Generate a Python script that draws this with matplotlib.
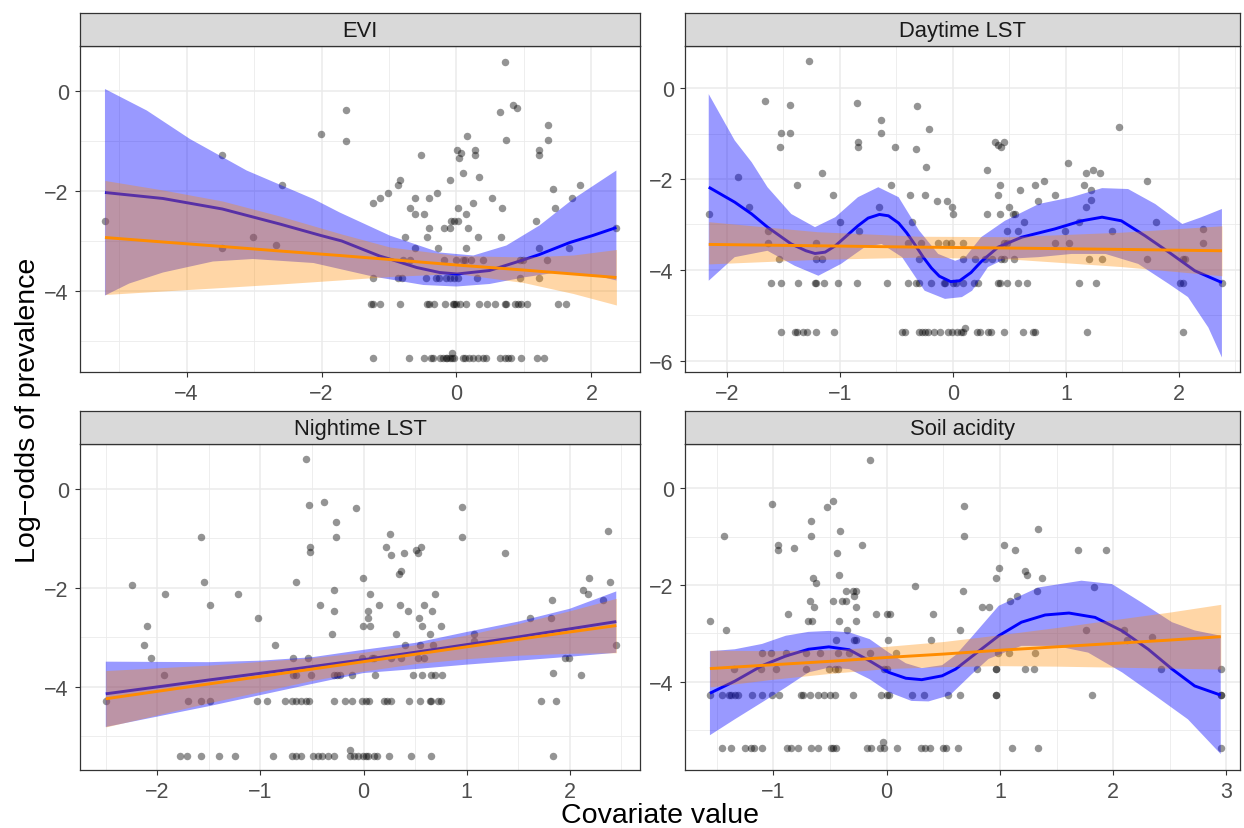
import matplotlib
matplotlib.use("Agg")
import matplotlib.pyplot as plt
from matplotlib.ticker import MultipleLocator

plt.rcParams["font.family"] = ["Liberation Sans", "DejaVu Sans"]

# ---------------- EVI ----------------
evi_x = [-5.21, -3.47, -2.59, -3.02, -3.47, -2.67, -2.01, -1.64, -1.64, -1.24, -1.14, -1.02,
         0.72, 0.65, 0.84, 0.90, 1.36, 1.36, 1.23, 1.23, 0.74, 0.16, 0.01, 0.07, 0.03, 0.28,
         0.28, -0.52, 0.09, 0.34, -0.10, -0.83, -0.87, -0.29, -0.40, -0.62, 0.53, 1.43, 1.83,
         1.71, 0.24, -0.69, 0.67, 1.46, 0.02, -0.61, -0.48, 0.14, -0.08, -0.03, 0.02, 1.18,
         -0.40, -0.19, -0.10, 0.17, -0.76, -0.43, 0.32, 0.66, -0.61, -0.27, 0.14, 1.23, 1.67,
         2.36, -0.06]
evi_y = [-2.59, -1.28, -1.87, -2.92, -3.13, -3.07, -0.85, -0.37, -0.99, -2.23, -2.13, -2.03,
         0.59, -0.41, -0.28, -0.33, -0.68, -0.98, -1.18, -1.28, -0.98, -0.89, -1.18, -1.23,
         -1.34, -1.18, -1.28, -1.28, -1.64, -1.71, -1.78, -1.78, -1.87, -2.03, -2.13, -2.13,
         -2.13, -1.95, -1.87, -2.13, -2.23, -2.33, -2.33, -2.33, -2.33, -2.45, -2.45, -2.45,
         -2.59, -2.59, -2.59, -2.59, -2.74, -2.74, -2.74, -2.74, -2.92, -2.92, -2.92, -2.92,
         -3.13, -3.13, -3.13, -3.13, -3.13, -2.74, -5.23]
evi_row_y = [-3.38, -3.73, -4.25, -5.34]
evi_row_x = [
    [-0.80, -0.69, -0.19, -0.01, 0.09, 0.13, 0.21, 0.40, 0.94, 0.99, 1.34],
    [-1.23, -0.87, -0.81, -0.45, -0.30, -0.26, -0.16, -0.10, -0.04, 0.02, 0.30, 0.94, 1.22],
    [-1.26, -1.24, -1.14, -0.84, -0.43, -0.41, -0.33, -0.17, -0.05, -0.03, 0.0, 0.05, 0.14,
     0.33, 0.45, 0.57, 0.72, 0.73, 0.86, 0.91, 0.95, 1.04, 1.50, 1.62],
    [-1.24, -0.70, -0.48, -0.38, -0.35, -0.25, -0.20, -0.16, -0.14, -0.10, -0.06, -0.03, 0.10,
     0.13, 0.19, 0.25, 0.32, 0.40, 0.44, 0.64, 0.72, 0.76, 0.81, 0.95, 1.19, 1.29],
]
evi_gam_x = [-5.21, -4.35, -3.47, -2.62, -2.01, -1.70, -1.14, -0.99, -0.59, -0.25, 0.01, 0.49,
             0.94, 1.23, 1.68, 2.02, 2.37]
evi_gam_y = [-2.03, -2.15, -2.36, -2.66, -2.89, -3.00, -3.30, -3.36, -3.53, -3.63, -3.66, -3.59,
             -3.40, -3.27, -3.03, -2.89, -2.73]
evi_gam_hi_x = [-5.21, -4.59, -3.95, -3.11, -2.12, -1.73, -0.99, -0.62, -0.25, 0.25, 0.74, 1.23,
                1.73, 2.37]
evi_gam_hi = [0.04, -0.39, -0.96, -1.59, -2.16, -2.43, -2.89, -3.06, -3.23, -3.29, -3.09, -2.69,
              -2.16, -1.59]
evi_gam_lo_x = [-5.21, -4.85, -4.35, -3.61, -3.02, -2.12, -1.24, -0.49, 0.0, 0.49, 0.99, 1.48,
                2.0, 2.37]
evi_gam_lo = [-4.09, -3.85, -3.63, -3.41, -3.36, -3.44, -3.71, -3.88, -3.91, -3.86, -3.73, -3.63,
              -3.67, -3.79]
evi_lm_x = [-5.21, -4.35, -3.47, -2.62, -1.73, -0.99, 0.0, 0.99, 1.73, 2.37]
evi_lm_y = [-2.93, -3.02, -3.11, -3.20, -3.29, -3.37, -3.48, -3.58, -3.66, -3.73]
evi_lm_hi = [-1.79, -1.98, -2.20, -2.50, -2.85, -3.12, -3.29, -3.32, -3.28, -3.17]
evi_lm_lo = [-4.07, -4.00, -3.93, -3.86, -3.78, -3.71, -3.65, -3.83, -4.05, -4.28]

# ---------------- Daytime LST ----------------
day_x = [-1.27, -1.66, -1.44, -1.52, -1.44, -1.53, -0.85, -0.64, -0.64, -0.84, -0.84, -0.51,
         -0.32, -0.21, -0.33, -0.24, -1.16, -1.90, -1.38, -1.06, -0.55, -0.38, -0.25, -0.14,
         -0.05, -0.01, 0.0, -1.80, -2.16, -0.65, -1.00, -0.36, -1.64, -0.83,
         1.47, 0.37, 0.40, 0.45, 0.43, 0.30, 1.02, 1.18, 1.24, 1.30, 0.81, 0.73, 1.72, 0.42,
         0.59, 0.40, 1.16, 1.22, 0.75, 0.90, 1.22, 1.18, 0.50, 0.30, 0.42, 0.53, 0.55, 0.63,
         1.12, 1.80, 0.48, 0.58, 0.99, 1.41, 2.21, 0.11]
day_y = [0.59, -0.29, -0.37, -0.99, -0.99, -1.29, -0.33, -0.69, -0.99, -1.18, -1.29, -1.29,
         -0.40, -0.90, -1.34, -1.73, -1.87, -1.96, -2.14, -2.35, -2.14, -2.35, -2.35, -2.48,
         -2.48, -2.61, -2.77, -2.61, -2.77, -2.61, -2.94, -2.94, -3.15, -3.15,
         -0.86, -1.19, -1.24, -1.19, -1.29, -1.80, -1.65, -1.87, -1.80, -1.87, -2.05, -2.14,
         -2.05, -2.14, -2.24, -2.35, -2.14, -2.24, -2.48, -2.35, -2.46, -2.61, -2.61, -2.77,
         -2.77, -2.77, -2.77, -2.94, -2.94, -2.94, -3.15, -3.15, -3.15, -3.15, -3.09, -5.27]
day_row_y = [-3.41, -3.76, -4.28, -5.38]
day_row_x = [
    [-1.64, -1.21, -0.40, -0.28, -0.13, -0.06, -0.02, 0.09, 0.45, 0.48, 0.90, 1.03, 2.21],
    [-1.54, -1.21, -1.16, -0.30, 0.09, 0.20, 0.28, 0.35, 0.43, 0.45, 0.54, 1.20, 1.32, 1.72,
     2.04, 2.05],
    [-1.61, -1.52, -1.37, -1.22, -1.21, -1.14, -1.02, -0.85, -0.58, -0.40, -0.33, -0.30, -0.19,
     -0.08, -0.07, 0.00, 0.03, 0.09, 0.19, 0.22, 0.40, 0.42, 0.48, 0.58, 0.66, 1.12, 1.27, 2.01,
     2.04, 2.38],
    [-1.52, -1.40, -1.38, -1.33, -1.29, -1.21, -1.05, -0.45, -0.42, -0.30, -0.27, -0.25, -0.22,
     -0.17, -0.11, -0.04, -0.01, 0.04, 0.07, 0.09, 0.21, 0.24, 0.31, 0.34, 0.45, 0.62, 0.71,
     0.73, 1.19, 2.04],
]
day_gam_x = [-2.16, -1.93, -1.78, -1.64, -1.43, -1.30, -1.22, -1.13, -1.04, -0.94, -0.84, -0.75,
             -0.65, -0.57, -0.48, -0.41, -0.34, -0.26, -0.19, -0.12, -0.02, 0.06, 0.16, 0.25,
             0.40, 0.61, 0.90, 1.14, 1.32, 1.49, 1.70, 1.91, 2.14, 2.38]
day_gam_y = [-2.18, -2.51, -2.77, -3.06, -3.43, -3.58, -3.64, -3.61, -3.47, -3.25, -3.03, -2.86,
             -2.78, -2.81, -2.97, -3.18, -3.43, -3.73, -3.96, -4.14, -4.26, -4.24, -4.06, -3.82,
             -3.50, -3.28, -3.10, -2.92, -2.84, -2.92, -3.25, -3.61, -4.02, -4.28]
day_gam_hi_x = [-2.16, -1.93, -1.78, -1.64, -1.43, -1.22, -1.04, -0.84, -0.66, -0.48, -0.30,
                -0.13, 0.02, 0.11, 0.25, 0.46, 0.76, 1.05, 1.32, 1.55, 1.79, 2.03, 2.20, 2.38]
day_gam_hi = [-0.13, -1.15, -1.63, -2.18, -2.77, -3.06, -2.84, -2.40, -2.18, -2.40, -3.13,
              -3.65, -3.80, -3.72, -3.28, -2.92, -2.55, -2.40, -2.20, -2.22, -2.55, -2.99, -2.84,
              -2.66]
day_gam_lo_x = [-2.16, -1.93, -1.64, -1.40, -1.19, -0.99, -0.78, -0.63, -0.45, -0.25, -0.07,
                0.08, 0.17, 0.31, 0.46, 0.76, 1.05, 1.35, 1.64, 1.91, 2.08, 2.26, 2.38]
day_gam_lo = [-4.24, -3.72, -3.58, -3.91, -4.13, -3.87, -3.50, -3.43, -3.72, -4.46, -4.64,
              -4.60, -4.46, -3.94, -3.76, -3.72, -3.65, -3.65, -3.87, -4.31, -4.60, -5.27, -5.93]
day_lm_x = [-2.16, -1.20, -0.30, 0.50, 1.50, 2.38]
day_lm_y = [-3.44, -3.47, -3.50, -3.52, -3.55, -3.58]
day_lm_hi = [-2.94, -3.16, -3.26, -3.27, -3.17, -3.03]
day_lm_lo = [-3.87, -3.77, -3.72, -3.76, -3.93, -4.13]

# ---------------- Nightime LST ----------------
night_x = [-0.56, -0.53, -0.38, -0.07, -0.27, -0.27, -1.58, -0.52, -0.52, -2.25, -1.55, -0.66,
           -0.01, -1.93, -1.22, -0.29, 0.06, -1.49, -0.42, -0.29, 0.04, 0.04, -1.02, -2.10,
           -0.01, 0.06, -0.31, -2.13, -0.86,
           0.95, 0.95, 2.37, 1.37, 0.26, 0.22, 0.27, 0.39, 0.51, 0.53, 0.56, 0.34, 0.36, 2.19,
           2.39, 2.13, 2.18, 2.32, 0.15, 0.35, 0.59, 0.69, 0.43, 0.66, 0.54, 1.83, 1.61, 1.82,
           0.57, 0.75, 0.31, 0.64, 1.07, 1.07, 0.40, 0.55, 0.67, 2.45, 1.84, -0.13]
night_y = [0.61, -0.32, -0.27, -0.39, -0.67, -0.98, -0.98, -1.18, -1.28, -1.95, -1.87, -1.87,
           -1.79, -2.13, -2.13, -2.04, -2.13, -2.34, -2.34, -2.47, -2.47, -2.61, -2.61, -2.76,
           -2.76, -2.76, -2.94, -3.15, -3.15,
           -0.36, -0.98, -0.85, -1.29, -0.90, -1.18, -1.34, -1.29, -1.23, -1.29, -1.18, -1.72,
           -1.65, -1.79, -1.87, -2.04, -2.13, -2.24, -2.34, -2.34, -2.34, -2.13, -2.47, -2.47,
           -2.61, -2.24, -2.61, -2.61, -2.76, -2.76, -2.94, -2.94, -2.94, -3.08, -3.15, -3.15,
           -3.15, -3.15, -3.72, -5.27]
night_row_y = [-3.41, -3.76, -4.28, -5.39]
night_row_x = [
    [-2.06, -0.68, -0.54, -0.02, 0.08, 0.10, 0.27, 0.36, 0.53, 0.59, 1.95, 1.99],
    [-1.94, -0.68, -0.66, -0.51, -0.29, -0.26, -0.23, -0.11, 0.11, 0.48, 0.57, 0.65, 0.69,
     0.76, 2.11],
    [-2.50, -1.70, -1.58, -1.49, -1.03, -0.94, -0.76, -0.69, -0.66, -0.61, -0.56, -0.53, -0.29,
     -0.18, -0.11, -0.02, 0.02, 0.05, 0.20, 0.23, 0.27, 0.44, 0.55, 0.64, 0.65, 0.72, 0.75,
     1.72, 1.87],
    [-1.78, -1.71, -1.58, -1.40, -1.25, -0.88, -0.69, -0.66, -0.61, -0.49, -0.44, -0.40, -0.35,
     -0.29, -0.13, -0.09, -0.05, -0.01, 0.02, 0.04, 0.10, 0.13, 0.25, 0.46, 0.65, 1.84],
]
night_gam_x = [-2.50, -1.50, -0.50, 0.07, 0.50, 1.50, 2.45]
night_gam_y = [-4.14, -3.86, -3.59, -3.43, -3.30, -2.99, -2.68]
night_gam_hi_x = [-2.50, -1.50, -1.00, -0.50, 0.00, 0.50, 1.00, 1.50, 2.00, 2.45]
night_gam_hi = [-3.49, -3.50, -3.47, -3.40, -3.25, -3.11, -2.89, -2.68, -2.42, -2.07]
night_gam_lo_x = [-2.50, -1.50, -0.50, 0.00, 0.50, 1.00, 1.50, 2.00, 2.45]
night_gam_lo = [-4.81, -4.39, -3.94, -3.72, -3.64, -3.55, -3.47, -3.39, -3.31]
night_lm_x = [-2.50, -1.50, -0.50, 0.00, 0.50, 1.00, 1.50, 2.00, 2.45]
night_lm_y = [-4.24, -3.94, -3.64, -3.49, -3.34, -3.19, -3.04, -2.89, -2.76]
night_lm_hi = [-3.67, -3.56, -3.41, -3.30, -3.15, -2.95, -2.72, -2.46, -2.21]
night_lm_lo = [-4.81, -4.32, -3.87, -3.68, -3.53, -3.43, -3.36, -3.32, -3.31]

# ---------------- Soil acidity ----------------
soil_x = [-0.15, -1.01, -0.47, -0.53, -0.67, -1.44, -0.67, -0.41, -0.96, -0.96, -0.82, -0.22,
          -0.44, -0.42, -0.65, -0.62, 0.25, -0.36, -0.30, -0.27, -0.68, -0.47, -0.39, -0.36,
          -0.29, -0.64, -0.27, -0.87, -0.09, 0.0, 0.03, 0.41, -1.56, -0.69, -0.66, -0.42, -0.27,
          -1.42, -0.35, 0.65, -0.45, -0.29, -0.27, 0.01, 0.39,
          0.68, 0.68, 1.34, 1.04, 1.13, 1.69, 1.94, 0.99, 0.97, 1.22, 1.24, 1.37, 0.67, 1.33,
          1.83, 1.15, 1.09, 0.84, 0.90, 1.76, 2.10, 2.12, 2.34, -0.03]
soil_y = [0.59, -0.32, -0.27, -0.39, -0.67, -0.98, -0.98, -0.89, -1.17, -1.28, -1.23, -1.17,
          -1.33, -1.79, -1.86, -1.95, -2.03, -2.13, -2.13, -2.13, -2.34, -2.34, -2.34, -2.34,
          -2.23, -2.46, -2.46, -2.60, -2.60, -2.60, -2.60, -2.60, -2.75, -2.75, -2.75, -2.75,
          -2.75, -2.93, -2.93, -2.93, -3.14, -3.14, -3.14, -3.14, -3.14,
          -0.36, -0.98, -0.84, -1.17, -1.28, -1.28, -1.28, -1.64, -1.86, -1.71, -1.79, -1.86,
          -2.13, -2.13, -2.04, -2.23, -2.34, -2.46, -2.46, -2.93, -2.93, -3.14, -3.08, -5.26]
soil_row_y = [-3.40, -3.74, -4.27, -5.38]
soil_row_x = [
    [-1.10, -1.02, -0.89, -0.71, -0.59, -0.43, -0.33, -0.15, 0.08, 0.98, 1.08, 1.31],
    [-1.35, -1.11, -0.98, -0.71, -0.51, -0.46, -0.43, -0.02, 0.00, 0.80, 0.97, 0.97, 1.22,
     1.30, 2.42, 2.95],
    [-1.56, -1.45, -1.39, -1.37, -1.34, -1.31, -1.19, -1.10, -1.01, -0.95, -0.76, -0.74, -0.68,
     -0.61, -0.55, -0.50, -0.46, -0.30, -0.05, 0.00, 0.02, 0.22, 0.33, 0.54, 0.65, 0.97, 0.97,
     1.81, 2.95, 2.95],
    [-1.45, -1.37, -1.25, -1.20, -1.17, -1.10, -0.88, -0.84, -0.78, -0.67, -0.61, -0.49, -0.47,
     -0.45, -0.17, -0.14, -0.06, -0.02, 0.09, 0.30, 0.34, 0.38, 0.50, 0.52, 0.63, 1.11, 1.34,
     2.95],
]
soil_gam_x = [-1.56, -1.34, -1.10, -0.89, -0.69, -0.51, -0.33, -0.15, 0.02, 0.17, 0.31, 0.49,
              0.61, 0.78, 0.99, 1.19, 1.40, 1.61, 1.84, 2.08, 2.31, 2.52, 2.72, 2.95]
soil_gam_y = [-4.24, -3.99, -3.67, -3.47, -3.33, -3.28, -3.34, -3.57, -3.81, -3.93, -3.96, -3.88,
              -3.74, -3.43, -3.05, -2.77, -2.62, -2.58, -2.67, -2.95, -3.33, -3.74, -4.09, -4.28]
soil_gam_hi_x = [-1.56, -1.34, -1.10, -0.89, -0.69, -0.51, -0.33, -0.15, 0.02, 0.17, 0.31, 0.49,
                 0.61, 0.75, 0.99, 1.34, 1.72, 1.99, 2.25, 2.52, 2.72, 2.95]
soil_gam_hi = [-3.37, -3.33, -3.22, -3.05, -2.97, -2.95, -2.98, -3.12, -3.40, -3.62, -3.72, -3.66,
               -3.45, -3.08, -2.43, -2.05, -1.91, -1.98, -2.36, -2.77, -2.94, -3.05]
soil_gam_lo_x = [-1.56, -1.34, -1.10, -0.89, -0.69, -0.51, -0.33, -0.15, 0.02, 0.22, 0.37, 0.56,
                 0.75, 0.90, 1.19, 1.49, 1.78, 2.08, 2.37, 2.66, 2.95]
soil_gam_lo = [-5.11, -4.78, -4.43, -4.12, -3.81, -3.71, -3.74, -3.95, -4.22, -4.40, -4.41, -4.28,
               -3.85, -3.53, -3.26, -3.26, -3.40, -3.81, -4.29, -4.78, -5.50]
soil_lm_x = [-1.56, -1.0, -0.5, 0.0, 0.5, 1.0, 1.5, 2.0, 2.5, 2.95]
soil_lm_y = [-3.73, -3.65, -3.58, -3.50, -3.43, -3.35, -3.28, -3.21, -3.14, -3.07]
soil_lm_hi = [-3.35, -3.36, -3.34, -3.27, -3.17, -3.03, -2.88, -2.72, -2.56, -2.40]
soil_lm_lo = [-4.11, -3.95, -3.83, -3.73, -3.69, -3.67, -3.68, -3.70, -3.72, -3.74]

W, H = 1244, 829


def box(l, t, r, b):
    return [l / W, 1 - b / H, (r - l) / W, (b - t) / H]


def panel(bounds, title, px, py, row_y, row_x, gx, gy, hx, hi, lx, lo,
          mx, my, mhi, mlo, xlim, ylim, xmaj, ymaj):
    l, t, r, b = bounds
    ax = fig.add_axes(box(l, t, r, b))
    st = fig.add_axes(box(l, t - 33, r, t))
    st.set_facecolor("#D9D9D9")
    st.set_xticks([]); st.set_yticks([])
    for s in st.spines.values():
        s.set_color("#333333"); s.set_linewidth(0.9)
    st.text(0.5, 0.46, title, ha="center", va="center", fontsize=15.8, color="#1A1A1A")

    # points
    allx = list(px); ally = list(py)
    for lvl, xs in zip(row_y, row_x):
        allx += xs; ally += [lvl] * len(xs)
    ax.plot(allx, ally, "o", color="black", alpha=0.42, ms=5.4, mew=0, zorder=2)

    # GAM smooth (blue)
    ax.fill(list(hx) + list(lx)[::-1], list(hi) + list(lo)[::-1],
            color="blue", alpha=0.4, lw=0, zorder=3)
    ax.plot(gx, gy, color="blue", lw=2.1, zorder=4, solid_capstyle="butt")
    # linear fit (orange)
    ax.fill_between(mx, mlo, mhi, color="#FF8C00", alpha=0.35, lw=0, zorder=5)
    ax.plot(mx, my, color="#FF8C00", lw=2.1, zorder=6, solid_capstyle="butt")

    ax.set_xlim(*xlim); ax.set_ylim(*ylim)
    ax.xaxis.set_major_locator(MultipleLocator(xmaj))
    ax.xaxis.set_minor_locator(MultipleLocator(xmaj / 2))
    ax.yaxis.set_major_locator(MultipleLocator(ymaj))
    ax.yaxis.set_minor_locator(MultipleLocator(ymaj / 2))
    ax.grid(which="major", color="#EBEBEB", lw=1.1, zorder=0)
    ax.grid(which="minor", color="#EBEBEB", lw=0.6, zorder=0)
    ax.set_axisbelow(True)
    ax.tick_params(which="major", length=3.5, width=0.8, color="#333333",
                   labelsize=15.5, labelcolor="#4D4D4D", pad=4.5)
    ax.tick_params(which="minor", length=0)
    for s in ax.spines.values():
        s.set_color("#333333"); s.set_linewidth(0.9)
    return ax


fig = plt.figure(figsize=(W / 100, H / 100), dpi=100)

panel((80, 47, 640, 373), "EVI", evi_x, evi_y, evi_row_y, evi_row_x,
      evi_gam_x, evi_gam_y, evi_gam_hi_x, evi_gam_hi, evi_gam_lo_x, evi_gam_lo,
      evi_lm_x, evi_lm_y, evi_lm_hi, evi_lm_lo, (-5.58, 2.72), (-5.62, 0.9), 2, 2)
panel((685, 47, 1240, 373), "Daytime LST", day_x, day_y, day_row_y, day_row_x,
      day_gam_x, day_gam_y, day_gam_hi_x, day_gam_hi, day_gam_lo_x, day_gam_lo,
      day_lm_x, day_lm_y, day_lm_hi, day_lm_lo, (-2.37, 2.54), (-6.25, 0.93), 1, 2)
panel((80, 445, 640, 771), "Nightime LST", night_x, night_y, night_row_y, night_row_x,
      night_gam_x, night_gam_y, night_gam_hi_x, night_gam_hi, night_gam_lo_x, night_gam_lo,
      night_lm_x, night_lm_y, night_lm_hi, night_lm_lo, (-2.75, 2.68), (-5.68, 0.91), 1, 2)
panel((685, 445, 1240, 771), "Soil acidity", soil_x, soil_y, soil_row_y, soil_row_x,
      soil_gam_x, soil_gam_y, soil_gam_hi_x, soil_gam_hi, soil_gam_lo_x, soil_gam_lo,
      soil_lm_x, soil_lm_y, soil_lm_hi, soil_lm_lo, (-1.78, 3.12), (-5.83, 0.92), 1, 2)

fig.text(660 / W, 1 - 816 / H, "Covariate value", ha="center", va="center", fontsize=20.5)
fig.text(28 / W, 1 - 410 / H, "Log\u2212odds of prevalence", ha="center", va="center",
         rotation=90, fontsize=20.5)

fig.savefig("out.png", dpi=100, facecolor="white")
